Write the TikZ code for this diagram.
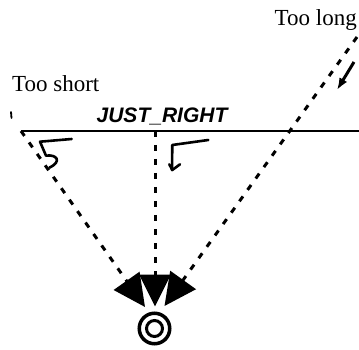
\documentclass[tikz,border=0pt]{standalone}
\usepackage{fontspec}
\setmainfont{Liberation Serif}
\newfontfamily\handfont{Liberation Sans}
\usepackage{tikz}
\usetikzlibrary{arrows.meta}
\tikzset{shot/.style={line width=3pt,dash pattern=on 6pt off 8pt,-{Triangle[length=32pt,width=31pt]}},
  handmark/.style={line width=2.6pt,line cap=round,line join=round},
  note/.style={font=\fontsize{23}{27}\selectfont,anchor=base west,inner sep=0pt}}
\begin{document}
\begin{tikzpicture}[x=1pt,y=-1pt]
\useasboundingbox (0,0) rectangle (359,350);
\coordinate (lineL) at (21,131); \coordinate (lineR) at (359,131);
\coordinate (aim) at (155,131); \coordinate (longA) at (357,37);
\draw[line width=2.8pt] (lineL)--(lineR);
% target
\node[circle,draw,line width=3.5pt,minimum size=30.5pt,inner sep=0pt] (target) at (154.5,328.5) {};
\node[circle,draw,line width=3pt,minimum size=16pt,inner sep=0pt] (bull) at (target) {};
\coordinate (tipL) at (145,307); \coordinate (tipM) at (155,306.5); \coordinate (tipR) at (164.5,306);
\draw[shot] (lineL)--(tipL); \draw[shot] (aim)--(tipM); \draw[shot] (longA)--(tipR);
% labels
\node[note] (short) at (12,92) {Too short};
\node[note,anchor=base east] (long) at (357,26) {Too long};
\node[font=\handfont\bfseries\itshape\fontsize{21}{24}\selectfont,anchor=base,inner sep=0pt] (right) at (162,123) {JUST\_RIGHT};
% hand marks
\coordinate (hintA) at (354,62); \coordinate (hintB) at (337,90);
\draw[line width=3pt,-{Latex[length=12pt,width=9pt]}] (hintA)--(hintB);
\draw[handmark,line width=1.8pt] (11,112)--(11.5,118);
\draw[handmark] (71.7,139)--(40,141.7)--(46,155.7) .. controls (56,154) and (63,161) .. (49.3,167.7);
\draw[handmark] (208.3,140)--(172.3,145)--(172,170);
\draw[handmark] (169.3,164.3)--(172.3,170)--(180,164.3);
\end{tikzpicture}
\end{document}
